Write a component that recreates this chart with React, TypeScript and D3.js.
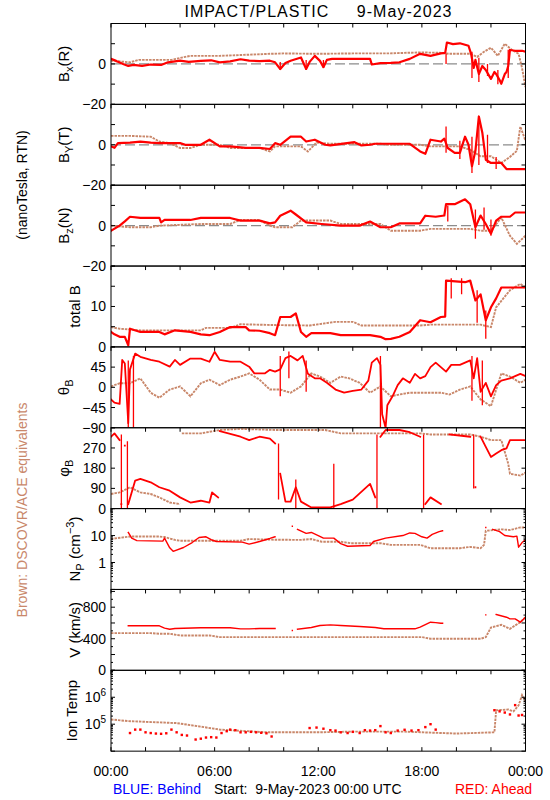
import React from 'react';
import * as d3 from 'd3';

const W = 550;
const H = 800;
const LEFT = 111;
const RIGHT = 525.5;
const TOP = 23.5;
const PH = 80.85;
const RED = '#ff0000';
const BROWN = '#c9876a';
const FONT = "'Liberation Sans', Arial, sans-serif";

type Pt = [number, number | null];
type Spike = [number, number, number];

const HOUR_TICKS = d3.range(0, 25, 2);
const HOUR_LABEL_POS = [0, 6, 12, 18, 24];
const HOUR_LABELS = ['00:00', '06:00', '12:00', '18:00', '00:00'];

// ---------- Bx (R) ----------
const RED_BX: Pt[] = [[0,2.5],[0.3,1.5],[0.7,0],[1.0,-1],[1.3,-0.5],[1.8,-1],[2.3,-0.3],[2.9,-0.5],[3.3,0.8],[4,1.6],[4.5,1.0],[5.2,1.5],[5.8,1.8],[6.3,0.8],[6.9,1.3],[7.5,2.3],[8,1.6],[8.6,1.4],[9.2,1.6],[9.5,0.8],[9.8,-2.5],[10.1,0.5],[10.4,1.6],[11,3.2],[11.3,-2.5],[11.5,1.0],[11.8,4],[12.1,1.5],[12.3,-1.6],[12.5,2],[12.8,2.5],[15.0,2.5],[15.1,-0.3],[15.6,0.4],[16.2,0.5],[16.7,0.8],[17.3,2.5],[17.9,5],[18.5,4],[19.1,5.2],[19.35,5.5],[19.45,10.6],[19.8,9.8],[20.2,10.2],[20.5,9.5],[20.7,9],[20.85,5],[21.0,-2],[21.1,2],[21.3,-5],[21.5,-1],[21.7,-3],[22,-7.4],[22.2,-4],[22.3,-5],[22.5,-8],[22.6,-9.8],[22.8,-5],[22.9,-4],[23.0,-1],[23.1,6.9],[23.4,6.5],[23.8,6.5],[24,6]];
const BROWN_BX: Pt[] = [[0,1.6],[1.1,0.8],[1.6,2],[3.5,2],[4.3,3.5],[4.6,4],[6.3,4],[7.5,4.4],[9.2,5],[10,5.2],[12,5],[14,5.2],[16,5.2],[17.9,5.7],[19,5.5],[19.6,5],[20.8,5],[21.2,3.5],[21.6,6],[22,8],[22.4,4],[22.8,10],[23.2,7],[23.6,5],[23.8,-2],[24,-11.5]];
const SPIKE_BX: Spike[] = [[9.8,-3,1],[11.3,-3,2],[12.3,-2,2],[19.4,0,5],[20.9,-7,6],[21.3,-9,3],[21.8,-6,0],[22.4,-10,-3],[23.0,-7,7]];

// ---------- By (T) ----------
const RED_BY: Pt[] = [[0,-0.8],[0.2,-1.5],[0.4,0.8],[1.1,1.1],[1.7,1.6],[2.3,1.1],[2.8,0.8],[4,0.8],[4.3,0],[5.2,0],[5.7,2.5],[6.3,-0.8],[6.9,-0.8],[7.8,-1.5],[8.6,-1.5],[9.2,-2.1],[9.5,0.8],[9.8,0],[10.4,4],[11,4],[11.3,1.6],[11.8,2.5],[12.4,0],[12.7,-0.3],[14.1,1.3],[14.5,-0.3],[15,0],[15.3,0.5],[16,0.5],[17.3,0.5],[17.9,-3.3],[18.2,-4.5],[18.5,2.5],[19.1,1.6],[19.3,3],[19.5,-1.6],[19.9,-4],[20.2,-4],[20.5,4],[20.7,0],[20.9,-10.6],[21.1,-3],[21.3,14],[21.5,6],[21.7,-7.4],[22,-9],[22.6,-9],[22.9,-12],[24,-12]];
const BROWN_BY: Pt[] = [[0,4.4],[1.1,4.4],[2.3,4],[2.8,1.6],[3.4,0.8],[4,-1.6],[4.6,-1.6],[5.2,0],[6.3,0],[6.9,-1.6],[8.6,-1.6],[9.2,-3.3],[9.5,-0.8],[11,-0.8],[11.4,-3.3],[11.9,1.1],[12.7,0.5],[15.6,0.5],[16,0],[17.9,0],[18.5,-0.8],[20.2,-0.8],[20.8,-2.5],[21.4,-5.7],[22,-5.7],[22.6,-9],[23.1,-6],[23.5,-3],[23.7,9],[24,2]];
const SPIKE_BY: Spike[] = [[19.4,-4,9],[20.2,-7,2],[20.9,-14,4],[21.3,-10,14],[21.8,-9,5],[22.3,-12,-6]];

// ---------- Bz (N) ----------
const RED_BZ: Pt[] = [[0,-2.5],[0.5,0],[0.8,2.1],[1.1,4.4],[1.7,3.8],[2.8,3.8],[2.9,1.6],[3.1,2.8],[4.6,2.8],[5.2,3.8],[6.9,3.8],[7.5,2.5],[8.6,2.5],[9.2,1.1],[9.5,1.6],[9.8,4.9],[10.4,7.4],[10.7,5.5],[11.3,1.6],[12.2,0.8],[13.3,0],[14.4,0],[15,2],[15.6,-0.8],[16.2,-0.8],[16.7,1.1],[17.9,1.1],[18.2,4.9],[18.8,4.4],[19.3,5],[19.4,10.6],[19.9,10.6],[20.5,13],[20.8,10.6],[21.1,-0.8],[21.4,5],[21.7,0.8],[22,-4],[22.3,2.5],[22.6,4.4],[23.1,4.4],[23.4,6.5],[24,6.5]];
const BROWN_BZ: Pt[] = [[0,0],[1.1,-0.8],[2.3,-0.8],[2.8,0],[5.2,0.8],[6.9,0.8],[7.5,2.8],[8.6,2.8],[9.2,0],[9.5,-0.8],[10.5,-0.8],[11,2.5],[12.7,2.5],[13.3,0.8],[15.6,0.8],[16.2,-2.5],[17.9,-2.5],[18.5,-1.6],[20.8,-1.6],[21.4,-2.5],[22,-2.5],[22.6,4],[23.1,-5],[23.5,-9],[24,-5]];
const SPIKE_BZ: Spike[] = [[19.5,2,10],[21.1,-6.5,8],[21.6,-2,9],[22.0,-5,3]];

// ---------- total B ----------
const RED_BT: Pt[] = [[0,3.7],[0.2,3.1],[0.5,2.5],[0.8,2.5],[1.0,0.4],[1.1,4.5],[1.7,3.7],[2.8,3.7],[3.1,3.1],[3.7,4.1],[4.6,3.7],[5.2,3.1],[5.7,2.9],[6.3,3.7],[6.9,4.9],[7.8,4.9],[8,4.1],[8.6,4],[9.2,3.4],[9.5,2.9],[9.8,7.4],[10.4,7.4],[10.7,8.3],[11,3.7],[11.3,2.5],[11.6,3.4],[12.7,3.4],[13.3,2.9],[15,2.9],[15.6,2.5],[15.9,1.9],[16.2,2],[16.7,2.5],[17.3,3.7],[17.9,6.6],[18.5,6.1],[19.1,7.4],[19.35,7.5],[19.4,16.4],[20.5,16],[20.8,16.4],[21.1,11.5],[21.4,13],[21.7,6.6],[22,9.8],[22.3,12],[22.6,14.7],[24,14.7]];
const BROWN_BT: Pt[] = [[0,4.9],[0.5,4.5],[1.7,4.1],[5.2,4.1],[5.5,4.7],[6.9,4.7],[7.5,5.6],[9.5,5.4],[11.5,5.3],[13,6.2],[14,6.2],[14.5,5.3],[17.9,5.3],[18.5,5.5],[21.4,5.5],[22,4.9],[22.3,9.8],[23.1,14],[23.7,15.6],[24,14.7]];
const SPIKE_BT: Spike[] = [[19.7,12,17],[20.3,13,17],[21.2,6,14],[21.7,2,9]];

// ---------- theta B ----------
const RED_TH: Pt[] = [[0,-27],[0.2,-34],[0.5,-37],[0.65,61],[0.8,53],[1.0,-80],[1.1,40],[1.4,75],[1.7,68],[2.3,61],[2.8,57],[3.4,46],[3.7,61],[4,50],[4.6,64],[5.2,64],[5.7,57],[6,79],[6.3,61],[6.9,57],[7.5,57],[8,46],[8.3,31],[8.9,31],[9.2,39],[9.5,35],[9.8,40],[10.1,65],[10.4,70],[10.8,60],[11.1,70],[11.4,30],[11.8,20],[12.1,20],[12.5,10],[13,-5],[13.5,-12],[14,-8],[14.5,-5],[14.9,15],[15.1,55],[15.4,65],[15.6,50],[15.7,-60],[15.9,-90],[16.0,-40],[16.3,-20],[16.6,5],[16.9,20],[17.3,10],[17.6,30],[17.9,20],[18.2,25],[18.5,45],[18.8,55],[19.1,45],[19.4,35],[19.7,50],[20.2,50],[20.5,55],[20.8,60],[21.0,20],[21.2,65],[21.4,-10],[21.7,10],[22,-20],[22.3,5],[22.6,15],[23.1,20],[23.7,30],[24,25]];
const BROWN_TH: Pt[] = [[0,2],[0.5,9],[1.1,9],[1.7,20],[2.3,-12],[2.8,-23],[3.4,-5],[4,2],[4.6,-20],[5.2,9],[5.7,17],[6.3,5],[6.9,17],[7.5,24],[8,31],[8.6,17],[9.2,-5],[9.8,-5],[10.4,-12],[11,2],[11.6,31],[12.1,24],[12.7,10],[13.3,24],[13.8,20],[14.4,10],[15,-12],[15.6,2],[16.2,-20],[16.7,-16],[17.3,-12],[19.1,-12],[19.6,-16],[20.2,-5],[20.8,2],[21.4,-27],[22,-42],[22.6,31],[23.1,24],[23.7,10],[24,17]];
const SPIKE_TH: Spike[] = [[1.0,-90,60],[1.3,-90,70],[9.8,-20,70],[10.3,20,80],[11.3,-10,60],[15.6,-90,70],[20.9,-30,70],[21.5,-40,60]];

// ---------- phi B ----------
const RED_PH: Pt[] = [[0,320],[0.2,335],[0.5,305],[0.55,null],[0.6,20],[0.65,null],[0.8,280],[0.85,null],[1.0,20],[1.4,125],[1.7,132],[2.3,117],[2.8,95],[3.4,80],[4,50],[4.6,27],[5.2,35],[5.7,27],[5.85,72],[6.2,50],[6.25,null],[6.3,345],[7.5,320],[8,305],[8.6,320],[9.2,312],[9.5,290],[9.55,null],[9.8,155],[10.1,31],[10.4,31],[10.7,95],[11,31],[11.6,5],[12.1,5],[12.7,5],[13.3,20],[14,40],[15,110],[15.3,50],[15.35,null],[15.6,320],[15.9,350],[16.7,350],[17.3,340],[17.9,320],[17.95,null],[18.2,20],[18.5,50],[19.1,20],[19.2,null],[19.6,330],[20.8,320],[20.85,null],[21.1,95],[21.15,null],[21.4,320],[21.7,275],[22,230],[22.3,245],[22.6,260],[22.9,268],[23.1,305],[24,305]];
const BROWN_PH: Pt[] = [[0,65],[0.5,72],[1.1,95],[1.7,72],[2.3,65],[2.8,50],[3.4,27],[4,20],[4.05,null],[4.1,335],[5.2,335],[6.3,350],[7.5,355],[9.5,350],[12.4,350],[13.3,335],[17.9,335],[18.5,330],[20.8,330],[21.4,320],[22,305],[22.6,305],[23.0,200],[23.1,155],[23.7,147],[24,160]];
const SPIKE_PH: Spike[] = [[0.6,0,330],[0.95,0,300],[9.7,40,290],[10.7,0,130],[12.9,0,200],[15.4,0,330],[18.1,0,330],[21.0,90,330]];

// ---------- Np (cm^-3) ----------
const RED_NP: Pt[] = [[1,13],[1.2,8],[1.5,6.5],[3,6.2],[3.1,8],[3.4,3.5],[3.6,2.6],[4.2,3.6],[4.7,5.5],[5.1,8.5],[5.5,9],[5.8,7],[6.1,6],[7.6,5.7],[8,4.8],[8.6,6],[9.2,7.8],[9.5,9],[9.6,null],[10.5,22],[10.6,null],[10.8,17],[11.3,12],[11.6,13],[12,10],[12.3,8],[12.9,8],[13.3,5],[13.7,4],[15,4.3],[15.2,6],[15.9,8],[16.9,10],[17.3,12.5],[17.6,12],[18,9],[18.3,8],[18.6,11],[19.0,14],[19.2,15],[19.3,null],[21.7,20],[21.8,null],[22.1,17],[22.5,14],[22.8,10],[23.3,9],[23.5,9.5],[23.6,3.7],[23.8,5.5],[24,7]];
const BROWN_NP: Pt[] = [[0,7.5],[1.1,9.2],[2.8,9.2],[3.1,8.8],[3.7,6.9],[4,6.4],[7.5,6.4],[8,7.4],[9.5,7],[11,6.9],[11.6,7.4],[12.2,5.9],[13.3,5.9],[13.9,5.2],[15.6,5.2],[16.2,4.5],[17.9,4.5],[18.5,3.4],[20.2,3.4],[20.8,3.8],[21.4,3.4],[21.6,4.5],[21.7,15],[22.6,17],[23.1,16],[23.7,20],[24,20]];

// ---------- V (km/s) ----------
const RED_V: Pt[] = [[1,564],[2.8,564],[3.1,534],[3.4,520],[3.7,530],[5.2,540],[6.9,540],[7.5,525],[8,525],[8.6,530],[9.5,530],[9.6,null],[10.5,505],[10.6,null],[10.8,522],[11.6,543],[12.1,568],[12.7,576],[13.3,568],[14.4,555],[15.3,543],[15.8,526],[17.6,526],[17.9,547],[18.5,610],[18.8,605],[19.1,597],[19.2,597],[19.3,null],[21.7,703],[21.8,null],[22.3,707],[22.9,673],[23.1,652],[23.4,652],[23.7,610],[24,673]];
const BROWN_V: Pt[] = [[0,471],[2.3,471],[2.8,463],[3.4,463],[4,442],[5.7,442],[6.3,421],[9.5,421],[14,421],[18,421],[18.5,400],[21.4,400],[21.7,420],[22,543],[22.6,576],[23.1,526],[23.7,610],[24,673]];

// ---------- Ion Temp ----------
const RED_T: Pt[] = [[1.1,4.7e4],[1.4,6.3e4],[1.7,6.3e4],[2.0,5.0e4],[2.3,4.7e4],[2.6,4.5e4],[2.9,4.4e4],[3.2,4.6e4],[3.5,6.3e4],[3.8,5.0e4],[4.1,4.0e4],[4.4,3.8e4],[4.9,2.7e4],[5.2,2.9e4],[5.5,3.2e4],[5.8,3.3e4],[6.1,3.2e4],[6.4,4.7e4],[6.7,5.5e4],[6.9,6.3e4],[7.2,6.0e4],[7.5,5.0e4],[7.8,5.0e4],[8.1,5.2e4],[8.4,5.0e4],[8.7,4.8e4],[9.0,4.6e4],[9.3,3.5e4],[11.5,7.2e4],[11.9,7.5e4],[12.3,6.8e4],[12.7,6.0e4],[13.0,5.8e4],[13.3,5.0e4],[13.7,4.7e4],[14.0,5.2e4],[14.4,4.7e4],[14.7,6.0e4],[15.0,5.8e4],[15.3,6.0e4],[15.6,8.5e4],[15.9,5.0e4],[16.2,4.7e4],[16.6,5.8e4],[17.0,6.2e4],[17.4,5.8e4],[17.8,6.0e4],[18.2,7.8e4],[18.5,1.0e5],[18.8,6.3e4],[22.2,3.3e5],[22.5,3.0e5],[22.8,2.7e5],[23.1,2.3e5],[23.4,5.1e5],[23.6,2.1e5],[23.8,2.2e5]];
const BROWN_T: Pt[] = [[0,1.5e5],[1,1.3e5],[3.8,1.1e5],[5,8.5e4],[6.3,6.3e4],[9,5e4],[12,5e4],[14,5.3e4],[17,5.3e4],[18,5e4],[20,4.5e4],[22.2,5e4],[22.3,3.3e5],[23.0,3.5e5],[23.3,3.0e5],[23.6,5e5],[23.8,1.2e6],[24,7e5]];

type Label = { v: number; text: React.ReactNode };
type PanelDef = {
  log: boolean;
  domain: [number, number];
  ticks: number[];
  minor: number[];
  labels: Label[];
  title: React.ReactNode;
  titleX: number;
  dashed: boolean;
  red: Pt[];
  brown: Pt[];
  spikes: Spike[];
  redDots: boolean;
  redWidth: number;
};

const logMinor = (lo: number, hi: number) => {
  const out: number[] = [];
  for (let e = lo; e < hi; e++) for (let k = 2; k <= 9; k++) out.push(k * Math.pow(10, e));
  return out;
};

// base letter + subscript, followed by optional rest at normal baseline
const withSub = (base: string, s: string, rest?: string) => (
  <>
    {base}
    <tspan dy={4} fontSize={11}>{s}</tspan>
    {rest ? <tspan dy={-4}>{rest}</tspan> : null}
  </>
);

const PANELS: PanelDef[] = [
  { log: false, domain: [-20, 20], ticks: [-20, -10, 0, 10, 20], minor: [], labels: [{ v: -20, text: '\u221220' }, { v: 0, text: '0' }],
    title: withSub('B', 'x', '(R)'), titleX: 69, dashed: true, red: RED_BX, brown: BROWN_BX, spikes: SPIKE_BX, redDots: false, redWidth: 2.2 },
  { log: false, domain: [-20, 20], ticks: [-20, -10, 0, 10, 20], minor: [], labels: [{ v: -20, text: '\u221220' }, { v: 0, text: '0' }],
    title: withSub('B', 'Y', '(T)'), titleX: 69, dashed: true, red: RED_BY, brown: BROWN_BY, spikes: SPIKE_BY, redDots: false, redWidth: 2.2 },
  { log: false, domain: [-20, 20], ticks: [-20, -10, 0, 10, 20], minor: [], labels: [{ v: -20, text: '\u221220' }, { v: 0, text: '0' }],
    title: withSub('B', 'z', '(N)'), titleX: 69, dashed: true, red: RED_BZ, brown: BROWN_BZ, spikes: SPIKE_BZ, redDots: false, redWidth: 2.2 },
  { log: false, domain: [0, 20], ticks: [0, 5, 10, 15, 20], minor: [], labels: [{ v: 0, text: '0' }, { v: 10, text: '10' }],
    title: 'total B', titleX: 80, dashed: false, red: RED_BT, brown: BROWN_BT, spikes: SPIKE_BT, redDots: false, redWidth: 2.2 },
  { log: false, domain: [-90, 90], ticks: [-90, -45, 0, 45, 90], minor: [], labels: [{ v: -90, text: '\u221290' }, { v: -45, text: '\u221245' }, { v: 0, text: '0' }, { v: 45, text: '45' }],
    title: withSub('\u03b8', 'B'), titleX: 69, dashed: false, red: RED_TH, brown: BROWN_TH, spikes: SPIKE_TH, redDots: false, redWidth: 1.8 },
  { log: false, domain: [0, 360], ticks: [0, 90, 180, 270, 360], minor: [], labels: [{ v: 0, text: '0' }, { v: 90, text: '90' }, { v: 180, text: '180' }, { v: 270, text: '270' }],
    title: withSub('\u03c6', 'B'), titleX: 69, dashed: false, red: RED_PH, brown: BROWN_PH, spikes: SPIKE_PH, redDots: false, redWidth: 1.8 },
  { log: true, domain: [0.1, 100], ticks: [0.1, 1, 10, 100], minor: logMinor(-1, 2), labels: [{ v: 1, text: '1' }, { v: 10, text: '10' }],
    title: <>N<tspan dy={4} fontSize={11}>P</tspan><tspan dy={-4}> (cm</tspan><tspan dy={-6} fontSize={11}>{'\u22123'}</tspan><tspan dy={6}>)</tspan></>, titleX: 80, dashed: false, red: RED_NP, brown: BROWN_NP, spikes: [], redDots: false, redWidth: 1.4 },
  { log: false, domain: [0, 1025], ticks: [0, 200, 400, 600, 800, 1000], minor: [100, 300, 500, 700, 900], labels: [{ v: 0, text: '0' }, { v: 400, text: '400' }, { v: 800, text: '800' }],
    title: 'V (km/s)', titleX: 80, dashed: false, red: RED_V, brown: BROWN_V, spikes: [], redDots: false, redWidth: 1.4 },
  { log: true, domain: [1e4, 1e7], ticks: [1e4, 1e5, 1e6, 1e7], minor: logMinor(4, 7), labels: [{ v: 1e5, text: <>10<tspan dy={-6} fontSize={10}>5</tspan></> }, { v: 1e6, text: <>10<tspan dy={-6} fontSize={10}>6</tspan></> }],
    title: 'Ion Temp', titleX: 77, dashed: false, red: RED_T, brown: BROWN_T, spikes: [], redDots: true, redWidth: 1.4 },
];

export default function App() {
  const x = d3.scaleLinear().domain([0, 24]).range([LEFT, RIGHT]);
  return (
    <svg width={W} height={H} viewBox={`0 0 ${W} ${H}`} style={{ display: 'block', position: 'absolute', left: 0, top: 0, background: '#fff' }} fontFamily={FONT}>
      <rect x={0} y={0} width={W} height={H} fill="#fff" />
      <text x={318} y={17} textAnchor="middle" fontSize={16} textLength={267} lengthAdjust="spacing" style={{ whiteSpace: 'pre' }}>
        {'IMPACT/PLASTIC     9-May-2023'}
      </text>
      {PANELS.map((p, i) => {
        const top = TOP + i * PH;
        const bot = top + PH;
        const y = (p.log ? d3.scaleLog() : d3.scaleLinear()).domain(p.domain).range([bot, top]) as d3.ScaleContinuousNumeric<number, number>;
        const line = d3.line<Pt>().defined((d) => d[1] !== null).x((d) => x(d[0])).y((d) => y(d[1] as number));
        const cid = `clip${i}`;
        const cy = (top + bot) / 2;
        return (
          <g key={i}>
            <defs>
              <clipPath id={cid}>
                <rect x={LEFT} y={top} width={RIGHT - LEFT} height={PH} />
              </clipPath>
            </defs>
            <g clipPath={`url(#${cid})`}>
              {p.dashed && <line x1={LEFT} x2={RIGHT} y1={y(0)} y2={y(0)} stroke="#8c8c8c" strokeWidth={1.3} strokeDasharray="10 4" />}
              <path d={line(p.brown) || ''} fill="none" stroke={BROWN} strokeWidth={1.9} strokeDasharray="2.5 1" />
              {p.redDots
                ? p.red.filter((d) => d[1] !== null).map((d, k) => (
                    <rect key={k} x={x(d[0]) - 1.2} y={y(d[1] as number) - 1.2} width={2.4} height={2.4} fill={RED} />
                  ))
                : <path d={line(p.red) || ''} fill="none" stroke={RED} strokeWidth={p.redWidth} strokeLinecap="square" strokeLinejoin="round" />}
              {p.spikes.map((s, k) => (
                <line key={k} x1={x(s[0])} x2={x(s[0])} y1={y(s[1])} y2={y(s[2])} stroke={RED} strokeWidth={1.3} />
              ))}
            </g>
            <rect x={LEFT} y={top} width={RIGHT - LEFT} height={PH} fill="none" stroke="#000" strokeWidth={1} />
            {HOUR_TICKS.map((h) => (
              <line key={'xt' + h} x1={x(h)} x2={x(h)} y1={top} y2={top + 4} stroke="#000" strokeWidth={1} />
            ))}
            {i === PANELS.length - 1 && HOUR_TICKS.map((h) => (
              <line key={'xb' + h} x1={x(h)} x2={x(h)} y1={bot} y2={bot - 4} stroke="#000" strokeWidth={1} />
            ))}
            {p.ticks.map((t) => (
              <g key={'yt' + t}>
                <line x1={LEFT} x2={LEFT + 4} y1={y(t)} y2={y(t)} stroke="#000" />
                <line x1={RIGHT} x2={RIGHT - 4} y1={y(t)} y2={y(t)} stroke="#000" />
              </g>
            ))}
            {p.minor.map((t) => (
              <g key={'ym' + t}>
                <line x1={LEFT} x2={LEFT + 2} y1={y(t)} y2={y(t)} stroke="#000" />
                <line x1={RIGHT} x2={RIGHT - 2} y1={y(t)} y2={y(t)} stroke="#000" />
              </g>
            ))}
            {p.labels.map((l) => (
              <text key={'yl' + l.v} x={LEFT - 5} y={y(l.v) + 5} textAnchor="end" fontSize={14}>{l.text}</text>
            ))}
            <text transform={`translate(${p.titleX},${cy}) rotate(-90)`} textAnchor="middle" fontSize={15}>{p.title}</text>
          </g>
        );
      })}
      <text transform={`translate(27,185) rotate(-90)`} textAnchor="middle" fontSize={14}>(nanoTesla, RTN)</text>
      <text transform={`translate(27,510) rotate(-90)`} textAnchor="middle" fontSize={14} fill={BROWN}>Brown: DSCOVR/ACE equivalents</text>
      {HOUR_LABEL_POS.map((h, k) => (
        <text key={'hl' + k} x={x(h)} y={776} textAnchor="middle" fontSize={14}>{HOUR_LABELS[k]}</text>
      ))}
      <text x={113} y={794} fontSize={14} fill="#0000ff">BLUE: Behind</text>
      <text x={214} y={794} fontSize={14} style={{ whiteSpace: 'pre' }}>{'Start:  9-May-2023 00:00 UTC'}</text>
      <text x={455} y={794} fontSize={14} fill={RED}>RED: Ahead</text>
    </svg>
  );
}
